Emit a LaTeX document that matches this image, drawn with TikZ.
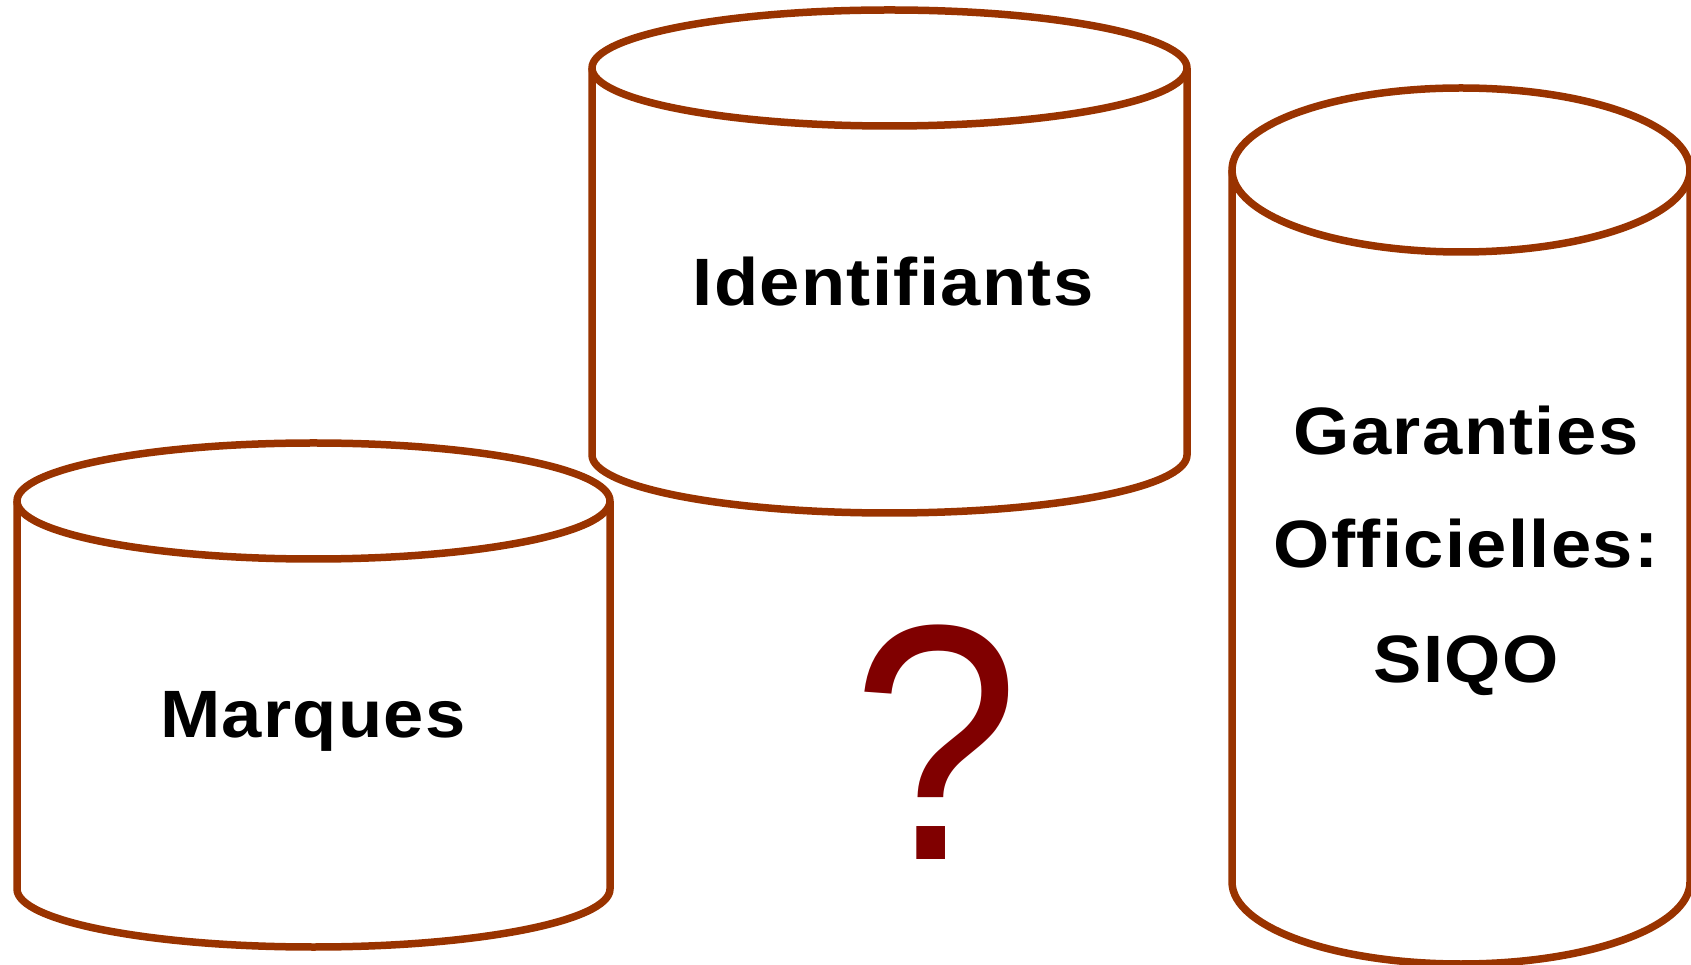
\documentclass[tikz,border=0pt]{standalone}
\usepackage{fontspec}
\setmainfont{Liberation Sans}
\newfontfamily\storefont[LetterSpace=2, FakeStretch=1.08]{Liberation Sans}
\usepackage{tikz}
\usetikzlibrary{positioning}
\definecolor{storeline}{RGB}{153,51,0}
\definecolor{askred}{RGB}{128,0,0}
% #1 = centre x, #2 = top y, #3 = bottom y, #4 = x radius, #5 = y radius
\newcommand{\datastore}[5]{
  \draw[storeedge] (#1-#4,#2) -- (#1-#4,#3)
    arc[start angle=180, end angle=360, x radius=#4, y radius=#5] -- (#1+#4,#2);
  \draw[storeedge] (#1,#2) ellipse[x radius=#4, y radius=#5];
}
\tikzset{
  storeedge/.style = {draw=storeline, line width=7.5pt, line join=round},
  storelabel/.style = {anchor=base, inner sep=0pt,
                       font=\storefont\bfseries\fontsize{67}{80}\selectfont}
}

\begin{document}
\begin{tikzpicture}[x=1pt, y=1pt]
  \useasboundingbox (0,0) rectangle (1691,964);
  \clip (0,0) rectangle (1691,964);
  \datastore{313.5}{463}{75}{296.5}{58}
  \datastore{889.5}{896}{509}{297.5}{58}
  \datastore{1461}{794}{82}{229}{82}
  \node[storelabel] (marques) at (313,226) {Marques};
  \node[storelabel] (identifiants) at (893,658) {Identifiants};
  \node[storelabel] (garanties) at (1466,509) {Garanties};
  \node[storelabel] (officielles) at (1466,396) {Officielles:};
  \node[storelabel] (siqo) at (1466,281) {SIQO};
  \node[anchor=base, inner sep=0pt, text=askred,
        font=\fontsize{320}{320}\selectfont] (ask) at (936,105)
        {\scalebox{0.94}[1.05]{?}};
\end{tikzpicture}
\end{document}
